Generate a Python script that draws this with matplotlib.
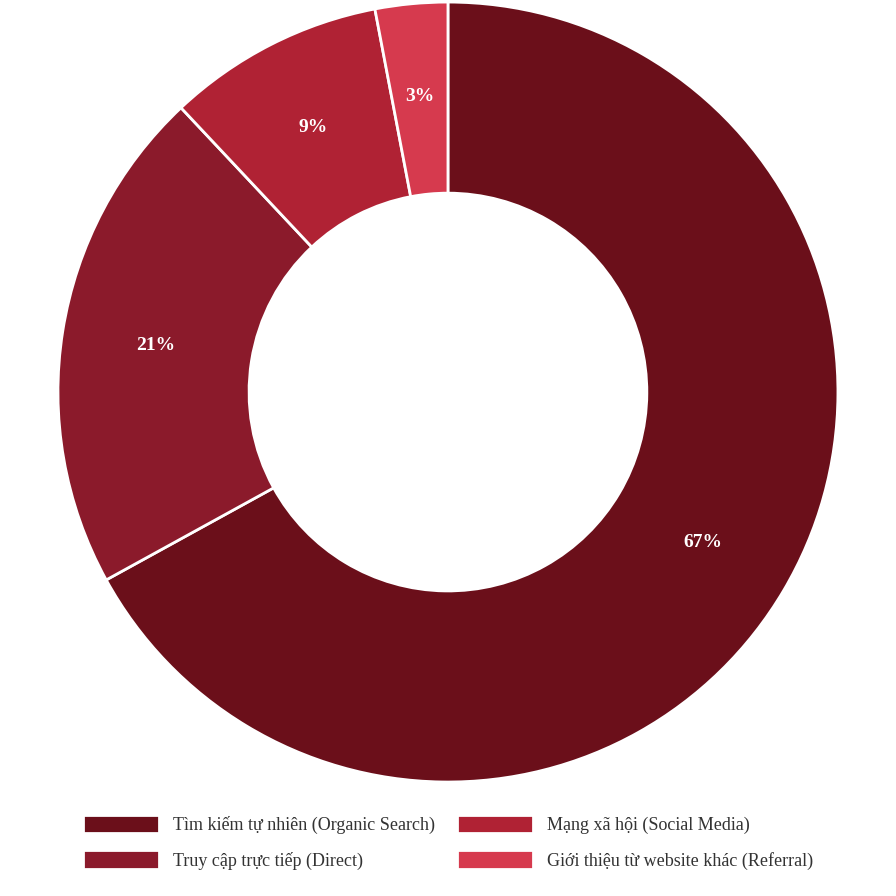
import matplotlib
matplotlib.use("Agg")
import matplotlib.pyplot as plt

categories = ["Tìm kiếm tự nhiên (Organic Search)", "Truy cập trực tiếp (Direct)",
              "Mạng xã hội (Social Media)", "Giới thiệu từ website khác (Referral)"]
values = [67, 21, 9, 3]
colors = ["#6B0F1A", "#8B1A2B", "#B02234", "#D63A4E"]

plt.rcParams['font.family'] = ['Liberation Serif', 'DejaVu Serif']
fig = plt.figure(figsize=(8.96, 8.96), dpi=100)
ax = fig.add_axes([0.0647, 0.1272, 0.8705, 0.8705])
wedges, texts, autotexts = ax.pie(values, colors=colors, startangle=90, counterclock=False,
    autopct=lambda p: f"{p:.0f}%", pctdistance=0.76,
    wedgeprops=dict(width=0.49, edgecolor="white", linewidth=2),
    textprops=dict(color="white", fontsize=14, fontweight="bold"))
ax.set_xlim(-1, 1); ax.set_ylim(-1, 1)
ax.set_aspect("equal")
fig.legend(wedges, categories, loc="center", bbox_to_anchor=(0.5, 0.06), ncol=2,
           frameon=False, fontsize=13, handlelength=4.2, handleheight=1.2,
           columnspacing=1.2, labelspacing=0.9, labelcolor="#333333")
fig.savefig("out.png", dpi=100)
